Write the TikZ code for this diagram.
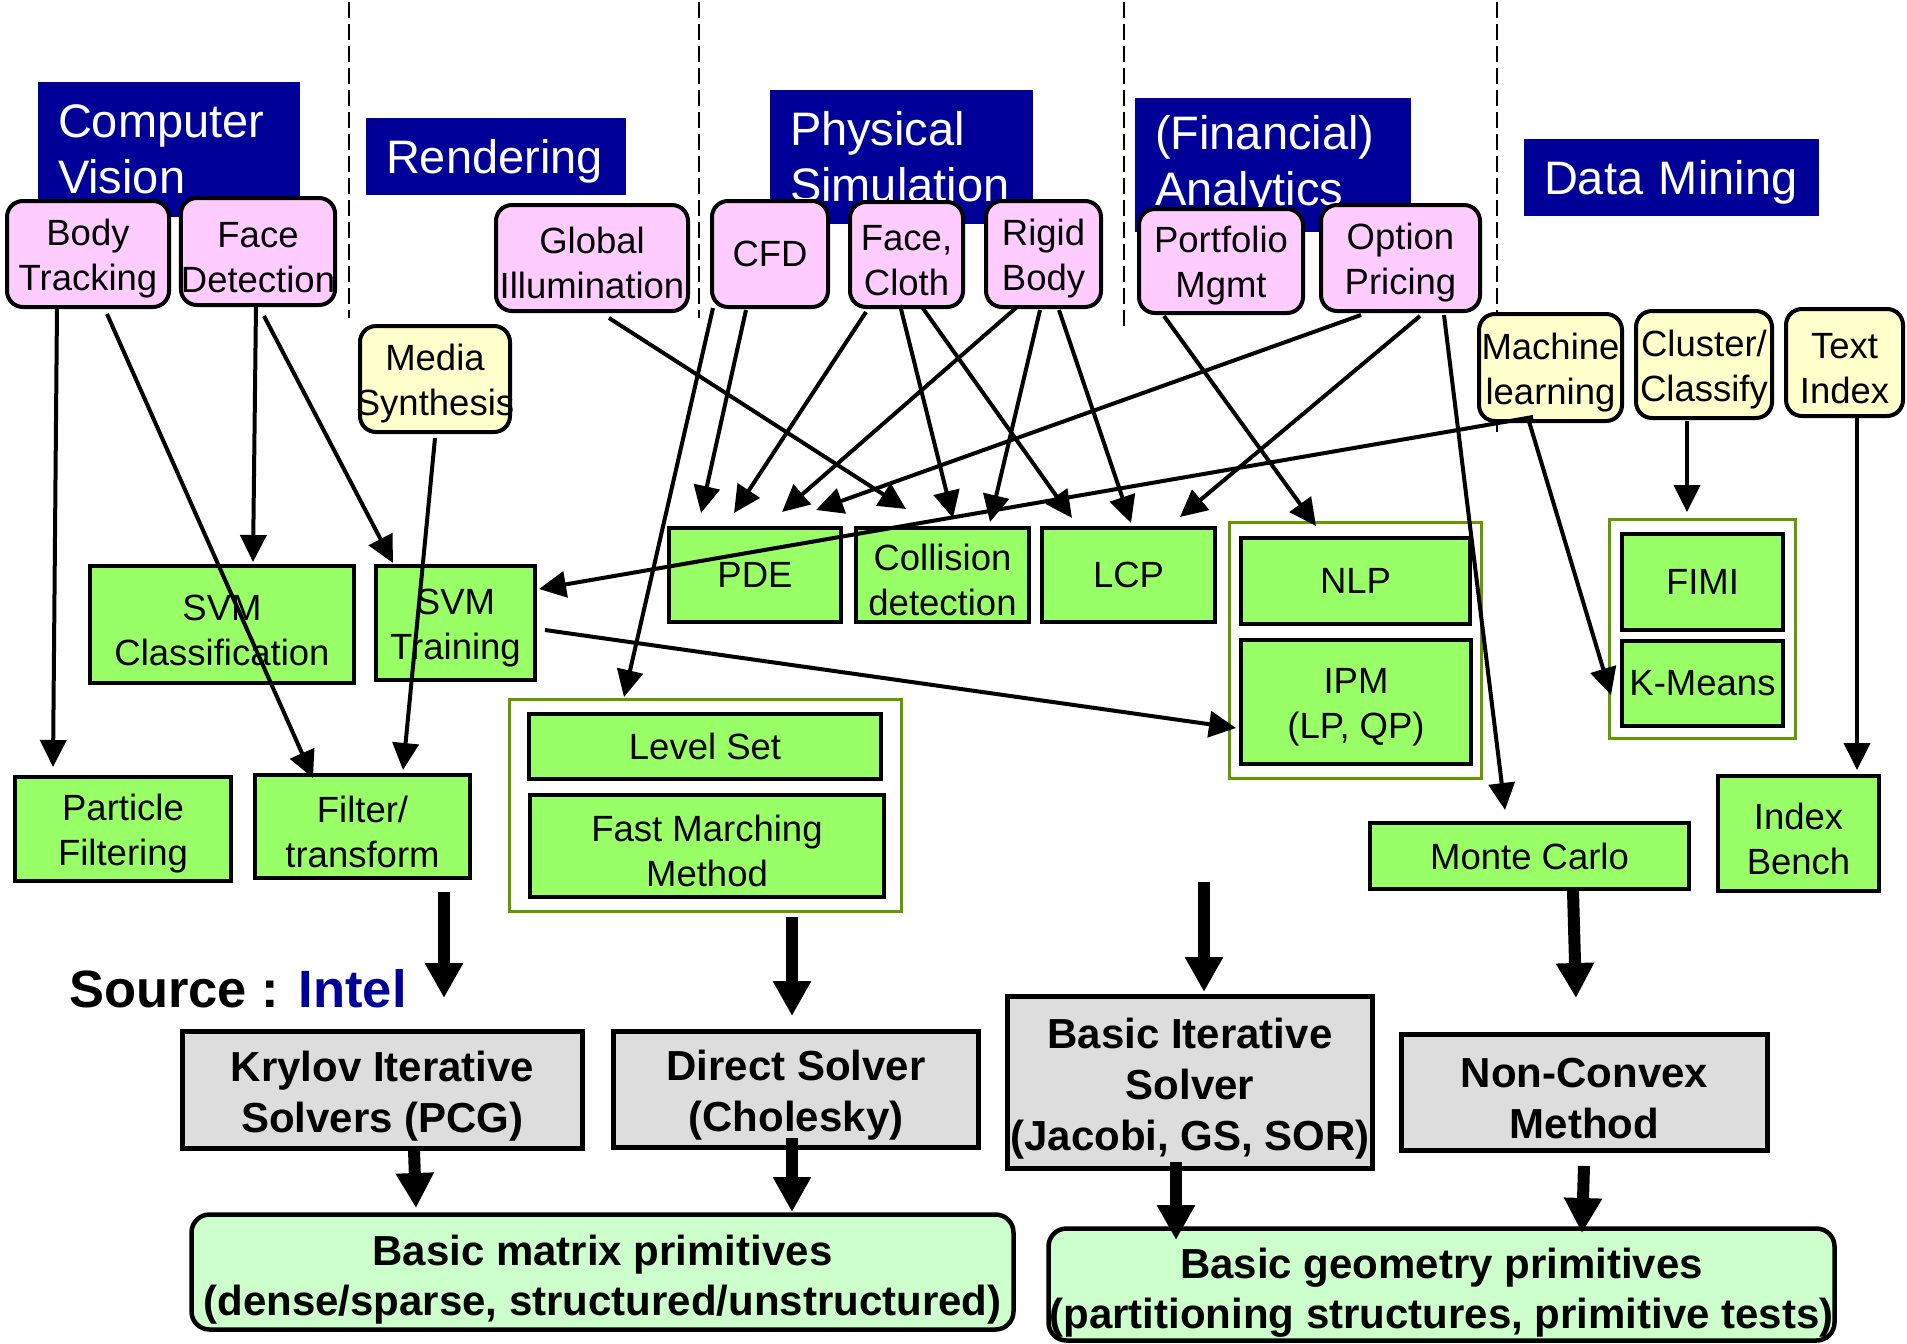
\documentclass[tikz,border=0pt]{standalone}
\usepackage{fontspec}
\setmainfont{Liberation Sans}
\usetikzlibrary{arrows.meta}
\definecolor{hdrblue}{RGB}{0,0,153}
\definecolor{appink}{RGB}{255,204,255}
\definecolor{apyellow}{RGB}{255,255,204}
\definecolor{kgreen}{RGB}{153,255,102}
\definecolor{grpolive}{RGB}{102,153,0}
\definecolor{solvgray}{RGB}{221,221,221}
\definecolor{primgreen}{RGB}{204,255,204}
% extra room above the first line of a multi-line label
\newcommand{\toppad}{\rule{0pt}{1em}}

\begin{document}
\begin{tikzpicture}[x=1pt, y=-1pt,
  hdr/.style={fill=hdrblue, text=white, inner xsep=20pt, inner ysep=0pt, outer sep=0pt,
    align=left, font=\fontsize{47}{56}\selectfont},
  app/.style={draw=black, line width=4pt, rounded corners=16pt, fill=appink, inner sep=0pt,
    outer sep=0pt, align=center, font=\fontsize{36.5}{45}\selectfont},
  appy/.style={app, fill=apyellow},
  kern/.style={draw=black, line width=4pt, fill=kgreen, inner sep=0pt, outer sep=0pt,
    align=center, font=\fontsize{36.5}{45}\selectfont},
  grp/.style={draw=grpolive, line width=3.5pt, fill=white, inner sep=0pt, outer sep=0pt},
  solver/.style={draw=black, line width=4.5pt, fill=solvgray, inner sep=0pt, outer sep=0pt,
    align=center, font=\bfseries\fontsize{42}{51}\selectfont},
  prim/.style={draw=black, line width=4.5pt, rounded corners=18pt, fill=primgreen, inner sep=0pt,
    outer sep=0pt, align=center, font=\bfseries\fontsize{42}{50}\selectfont},
  dep/.style={draw=black, line width=4pt, -{Triangle[length=27pt,width=26pt]}},
  flow/.style={draw=black, line width=12pt, -{Triangle[length=35pt,width=36pt]}},
  divider/.style={draw=black, line width=2pt, dash pattern=on 16pt off 6pt},
]
\useasboundingbox (0,0) rectangle (1907,1344);

% domain dividers
\draw[divider] (349,2) -- (349,318);
\draw[divider] (699,2) -- (699,318);
\draw[divider] (1124,2) -- (1124,327);
\draw[divider] (1497,2) -- (1497,432);

% domain headers
\node[hdr, text width=222pt, minimum height=135pt] (hcv) at (169,149.5) {Computer\\Vision};
\node[hdr, text width=220pt, minimum height=77pt] (hren) at (496,156.5) {\rule{0pt}{0.95em}Rendering};
\node[hdr, text width=223pt, minimum height=134pt] (hphy) at (901.5,157) {Physical\\Simulation};
\node[hdr, text width=236pt, minimum height=134pt] (hfin) at (1273,165) {(Financial)\\Analytics};
\node[hdr, text width=255pt, minimum height=77pt] (hdm) at (1671.5,177.5) {\rule{0pt}{0.95em}Data Mining};

% applications
\node[app, minimum width=162pt, minimum height=106pt] (bt) at (88,254) {\toppad Body\\Tracking};
\node[app, minimum width=152pt, minimum height=107pt] (fd) at (258,251.5) {\toppad Face\\Detection};
\node[app, minimum width=192pt, minimum height=106pt] (gi) at (592,258) {\toppad Global\\Illumination};
\node[app, minimum width=116pt, minimum height=106pt] (cfd) at (770,254) {CFD};
\node[app, minimum width=113pt, minimum height=105pt] (fc) at (906.5,254.5) {\toppad Face,\\Cloth};
\node[app, minimum width=115pt, minimum height=106pt] (rb) at (1043.5,254) {\toppad Rigid\\Body};
\node[app, minimum width=164pt, minimum height=104pt] (pm) at (1221,261) {\toppad Portfolio\\Mgmt};
\node[app, minimum width=159pt, minimum height=106pt] (op) at (1400.5,258) {\toppad Option\\Pricing};

\node[appy, minimum width=150pt, minimum height=106pt] (ms) at (435,379) {\toppad Media\\\makebox[140pt]{Synthesis}};
\node[appy, minimum width=143pt, minimum height=107pt] (ml) at (1550.5,367.5) {\toppad Machine\\learning};
\node[appy, minimum width=136pt, minimum height=107pt] (cc) at (1704,364.5) {\toppad Cluster/\\Classify};
\node[appy, minimum width=117pt, minimum height=107pt] (ti) at (1844.5,362.5) {\toppad Text\\Index};

% kernels
\node[kern, minimum width=264pt, minimum height=117pt] (svmc) at (222,624.5) {\toppad SVM\\Classification};
\node[kern, minimum width=159pt, minimum height=114pt] (svmt) at (455.5,623) {\toppad SVM\\Training};
\node[kern, minimum width=216pt, minimum height=104pt] (pf) at (123,829) {\toppad Particle\\Filtering};
\node[kern, minimum width=215pt, minimum height=103pt] (ft) at (362.5,826.5) {\toppad Filter/\\transform};

\node[grp, minimum width=392pt, minimum height=212pt] (lsg) at (705.5,805.5) {};
\node[kern, minimum width=352pt, minimum height=65pt] (ls) at (705,746.5) {Level Set};
\node[kern, minimum width=354pt, minimum height=102pt] (fmm) at (707,846) {\toppad Fast Marching\\Method};

\node[kern, minimum width=172pt, minimum height=94pt] (pde) at (755,575) {PDE};
\node[kern, minimum width=173pt, minimum height=94pt] (cd) at (942.5,575) {\toppad Collision\\detection};
\node[kern, minimum width=173pt, minimum height=94pt] (lcp) at (1128.5,575) {LCP};

\node[grp, minimum width=252pt, minimum height=256pt] (optg) at (1355.5,650.5) {};
\node[kern, minimum width=229pt, minimum height=86pt] (nlp) at (1355.5,581) {NLP};
\node[kern, minimum width=230pt, minimum height=124pt] (ipm) at (1356,702) {\toppad IPM\\(LP, QP)};

\node[grp, minimum width=186pt, minimum height=219pt] (dmg) at (1702.5,629) {};
\node[kern, minimum width=161pt, minimum height=96pt] (fimi) at (1702.5,582) {FIMI};
\node[kern, minimum width=161pt, minimum height=85pt] (km) at (1702.5,683.5) {K-Means};

\node[kern, minimum width=319pt, minimum height=66pt] (mc) at (1529.5,856) {Monte Carlo};
\node[kern, minimum width=161pt, minimum height=115pt] (ib) at (1798.5,833.5) {\toppad Index\\Bench};

% solvers
\node[solver, minimum width=400pt, minimum height=117pt] (kry) at (382.5,1090) {\toppad Krylov Iterative\\Solvers (PCG)};
\node[solver, minimum width=365pt, minimum height=116pt] (ds) at (796,1089.5) {\toppad Direct Solver\\(Cholesky)};
\node[solver, minimum width=365pt, minimum height=172pt] (bis) at (1190,1082.5) {\toppad Basic Iterative\\Solver\\(Jacobi, GS, SOR)};
\node[solver, minimum width=366pt, minimum height=116pt] (nc) at (1584.5,1092.5) {\toppad Non-Convex\\Method};

% primitives
\node[prim, minimum width=822pt, minimum height=115pt] (bmp) at (602.5,1272) {\rule{0pt}{1.1em}Basic matrix primitives\\(dense/sparse, structured/unstructured)};
\node[prim, minimum width=786pt, minimum height=112pt] (bgp) at (1441.5,1284.5) {\rule{0pt}{1.1em}Basic geometry primitives\\(partitioning structures, primitive tests)};

\node[anchor=base west, inner sep=0pt, font=\bfseries\fontsize{52.5}{60}\selectfont] (src) at (69,1007) {Source : \textcolor{hdrblue}{Intel}};

% application -> kernel dependencies
\draw[dep] ([xshift=-31pt]bt.south) -- ([xshift=-70pt,yshift=10pt]pf.north);
\draw[dep] ([xshift=19pt,yshift=-7pt]bt.south) -- ([xshift=-49.5pt,yshift=-3pt]ft.north);
\draw[dep] ([xshift=-2pt]fd.south) -- ([xshift=31pt,yshift=4pt]svmc.north);
\draw[dep] ([xshift=6pt,yshift=-11pt]fd.south) -- ([xshift=-62.5pt,yshift=3pt]svmt.north);
\draw[dep] ([yshift=-6pt]ms.south) -- ([xshift=40.5pt,yshift=5pt]ft.north);
\draw[dep] ([xshift=17pt,yshift=-7pt]gi.south) -- ([xshift=-36.5pt,yshift=19pt]cd.north);
\draw[dep] ([xshift=-57pt,yshift=-1pt]cfd.south) -- ([xshift=-81.5pt,yshift=2.5pt]lsg.north);
\draw[dep] ([xshift=-24pt,yshift=-3pt]cfd.south) -- ([xshift=-54pt,yshift=15pt]pde.north);
\draw[dep] ([xshift=-40.5pt,yshift=-5pt]fc.south) -- ([xshift=-21pt,yshift=15pt]pde.north);
\draw[dep] ([xshift=-26.5pt]rb.south) -- ([xshift=27pt,yshift=16pt]pde.north);
\draw[dep] ([xshift=-39.5pt,yshift=-4pt]op.south) -- ([xshift=61pt,yshift=18pt]pde.north);
\draw[dep] ([xshift=-6.5pt,yshift=2pt]fc.south) -- ([xshift=10.5pt,yshift=10pt]cd.north);
\draw[dep] ([xshift=-3.5pt,yshift=-3pt]rb.south) -- ([xshift=47.5pt,yshift=6pt]cd.north);
\draw[dep] ([xshift=15.5pt]fc.south) -- ([xshift=-56.5pt,yshift=10pt]lcp.north);
\draw[dep] ([xshift=15.5pt,yshift=-3pt]rb.south) -- ([xshift=2.5pt,yshift=5pt]lcp.north);
\draw[dep] ([xshift=19.5pt,yshift=-5pt]op.south) -- ([xshift=51.5pt,yshift=11pt]lcp.north);
\draw[dep] ([xshift=-57pt,yshift=-3pt]pm.south) -- ([xshift=-39.5pt,yshift=-3.5pt]optg.north);
\draw[dep] ([xshift=43.5pt,yshift=-4pt]op.south) -- ([xshift=-24.5pt,yshift=13pt]mc.north);
\draw[dep] ([xshift=-17.5pt,yshift=4pt]ml.south) -- ([xshift=4pt,yshift=34pt]svmt.east);
\draw[dep] ([xshift=-22.5pt,yshift=3pt]ml.south) -- ([xshift=-11pt,yshift=-11.5pt]km.west);
\draw[dep] ([xshift=10pt,yshift=-7pt]svmt.east) -- ([xshift=-5pt,yshift=-26pt]ipm.west);
\draw[dep] ([xshift=-17pt,yshift=-3pt]cc.south) -- ([xshift=-15.5pt,yshift=7.5pt]dmg.north);
\draw[dep] ([xshift=12.5pt,yshift=-2pt]ti.south) -- ([xshift=58.5pt,yshift=6pt]ib.north);

% kernel -> solver -> primitive flow
\coordinate (bisin) at (1204,882);
\draw[flow] ([xshift=81.5pt,yshift=-14pt]ft.south) -- ([xshift=61.5pt,yshift=33.5pt]kry.north);
\draw[flow] ([xshift=86.5pt,yshift=-5.5pt]lsg.south) -- ([xshift=-4pt,yshift=15.5pt]ds.north);
\draw[flow] (bisin) -- ([xshift=14pt,yshift=4.5pt]bis.north);
\draw[flow] ([xshift=43.5pt,yshift=-2pt]mc.south) -- ([xshift=-8.5pt,yshift=36.5pt]nc.north);
\draw[flow] ([xshift=31.5pt,yshift=-1.5pt]kry.south) -- ([xshift=-186.5pt,yshift=6.5pt]bmp.north);
\draw[flow] ([xshift=-4pt,yshift=9.5pt]ds.south) -- ([xshift=189.5pt,yshift=2.5pt]bmp.north);
\draw[flow] ([xshift=-14pt,yshift=6.5pt]bis.south) -- ([xshift=-265.5pt,yshift=-11.5pt]bgp.north);
\draw[flow] ([xshift=-0.5pt,yshift=-15.5pt]nc.south) -- ([xshift=140.5pt,yshift=-4.5pt]bgp.north);
\end{tikzpicture}
\end{document}
